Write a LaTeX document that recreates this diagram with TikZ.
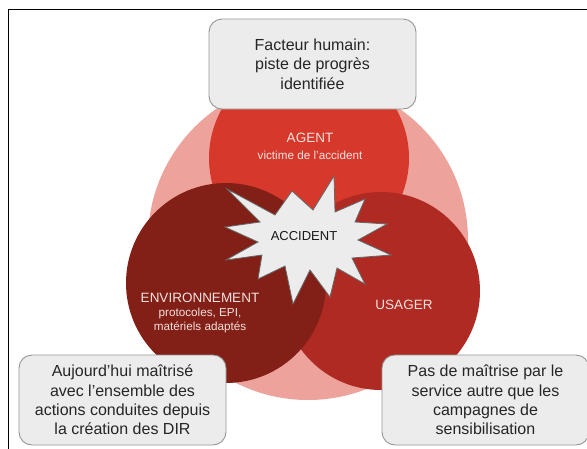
\documentclass[tikz,border=0pt]{standalone}
\usepackage{fontspec}
\setmainfont{Liberation Sans}
\definecolor{pale}{RGB}{237,162,155}
\definecolor{agentc}{RGB}{214,57,44}
\definecolor{envc}{RGB}{130,31,23}
\definecolor{usagerc}{RGB}{174,42,34}
\definecolor{boxfill}{RGB}{236,236,236}
\definecolor{boxline}{RGB}{150,150,150}
\definecolor{lbl}{RGB}{245,225,222}
\tikzset{
  disc/.style={circle, inner sep=0pt, draw=none},
  infobox/.style={draw=boxline, line width=0.9pt, fill=boxfill, rounded corners=13pt,
    minimum width=207pt, minimum height=90pt, align=center, inner sep=0pt,
    font=\fontsize{16}{19.3}\selectfont, text=black!85},
  bigl/.style={text=lbl, font=\fontsize{13.5}{15}\selectfont, inner sep=0pt},
  smalll/.style={text=lbl, font=\fontsize{11.7}{14}\selectfont, inner sep=0pt, align=center},
}
\begin{document}
\begin{tikzpicture}[x=1pt,y=-1pt]
\useasboundingbox (0,0) rectangle (587,448);
\begin{scope}
\clip (0,0) rectangle (587,448);
\draw[line width=0.8pt] (8,460) -- (8,9) -- (600,9);
% circles
\node[disc, fill=pale, minimum size=320pt] (pale) at (308,240) {};
\node[disc, fill=agentc, minimum size=200pt] (agent) at (309,158) {};
\node[disc, fill=usagerc, minimum size=198pt] (usager) at (381,291) {};
\node[disc, fill=envc, minimum size=200pt] (env) at (226,283) {};
% star
\draw[draw=black!60, line width=0.8pt, fill=boxfill]
  (227,189) -- (275,215) -- (292,191) -- (313,210) -- (334,176) -- (335,212)
  -- (365,199) -- (355,222) -- (387,224) -- (358,240) -- (391,255) -- (352,258)
  -- (365,284) -- (337,268) -- (330,297) -- (310,270) -- (293,304) -- (285,266)
  -- (258,279) -- (262,255) -- (226,260) -- (258,242) -- (225,227) -- (260,222) -- cycle;
\node[font=\fontsize{13}{15}\selectfont, text=black!90, inner sep=0pt] (acc) at (304,236) {ACCIDENT};
% labels
\node[bigl] (agentl) at (310,138) {AGENT};
\node[smalll] (agents) at (310,155) {victime de l’accident};
\node[bigl] (envl) at (200,298) {ENVIRONNEMENT};
\node[smalll] (envs) at (200,320) {protocoles, EPI,\\matériels adaptés};
\node[bigl] (usagerl) at (404,305) {USAGER};
% boxes
\node[infobox] (top) at (312.5,64) {Facteur humain:\\piste de progrès\\identifiée};
\node[infobox] (left) at (122.5,400) {Aujourd’hui maîtrisé\\avec l’ensemble des\\actions conduites depuis\\la création des DIR};
\node[infobox] (right) at (485.5,400) {Pas de maîtrise par le\\service autre que les\\campagnes de\\sensibilisation};
\end{scope}
\end{tikzpicture}
\end{document}
